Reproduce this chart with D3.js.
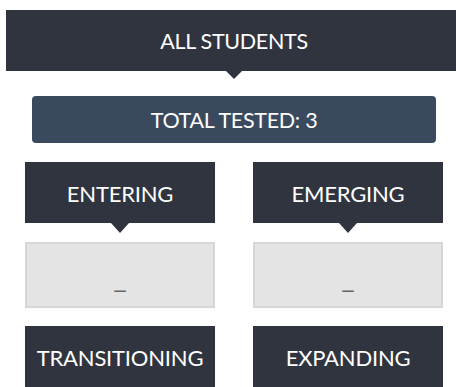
<!DOCTYPE html>
<html><head><meta charset="utf-8">
<script src="https://cdn.jsdelivr.net/npm/d3@7"></script>
<style>html,body{margin:0;padding:0;background:#fff;overflow:hidden}</style>
</head><body>
<script>
const title = "ALL STUDENTS";
const totalLabel = "TOTAL TESTED";
const totalValue = 3;
const categories = ["ENTERING", "EMERGING", "TRANSITIONING", "EXPANDING"];
const values = [null, null, null, null];

const W = 456, H = 387;
const dark = "#30343f", blue = "#3a4a5e";
const font = "Lato, 'Open Sans', sans-serif";
const svg = d3.select("body").append("svg").attr("width", W).attr("height", H);

// header
svg.append("rect").attr("x", 6).attr("y", 10).attr("width", 450).attr("height", 61).attr("fill", dark);
const hx = 234;
svg.append("path").attr("d", `M${hx-8},71 L${hx+8},71 L${hx},79 Z`).attr("fill", dark);
svg.append("text").attr("x", hx).attr("y", 41).attr("text-anchor", "middle").attr("dominant-baseline", "central")
  .attr("fill", "#fff").attr("font-family", font).attr("font-size", 21.5).attr("letter-spacing", -0.3).text(title);

// total
svg.append("rect").attr("x", 32).attr("y", 96).attr("width", 404).attr("height", 47).attr("rx", 4).attr("fill", blue);
svg.append("text").attr("x", 234).attr("y", 119.5).attr("text-anchor", "middle").attr("dominant-baseline", "central")
  .attr("fill", "#fff").attr("font-family", font).attr("font-size", 21.5).attr("letter-spacing", -0.3).text(`${totalLabel}: ${totalValue}`);

// grid
const x = d3.scaleBand().domain([0, 1]).range([25, 443]).paddingInner(38 / 228);
const rowY = [162, 326];
const boxH = 61;
categories.forEach((c, i) => {
  const col = i % 2, row = Math.floor(i / 2);
  const x0 = x(col), bw = x.bandwidth(), y0 = rowY[row];
  const cx = x0 + bw / 2;
  svg.append("rect").attr("x", x0).attr("y", y0).attr("width", bw).attr("height", boxH).attr("fill", dark);
  svg.append("text").attr("x", cx).attr("y", y0 + 31.5).attr("text-anchor", "middle").attr("dominant-baseline", "central")
    .attr("fill", "#fff").attr("font-family", font).attr("font-size", 22).attr("letter-spacing", -0.2).text(c);
  if (row === 0) {
    svg.append("path").attr("d", `M${cx-9},${y0+boxH} L${cx+9},${y0+boxH} L${cx},${y0+boxH+10} Z`).attr("fill", dark);
    svg.append("rect").attr("x", x0 + 1).attr("y", 243).attr("width", bw - 2).attr("height", 64)
      .attr("fill", "#e4e4e4").attr("stroke", "#d6d6d6").attr("stroke-width", 2);
    svg.append("text").attr("x", cx).attr("y", 290).attr("text-anchor", "middle").attr("dominant-baseline", "central")
      .attr("fill", "#666").attr("font-family", "'DejaVu Sans', sans-serif").attr("font-size", 13).attr("font-weight", "bold")
      .text(values[i] == null ? "—" : values[i]);
  }
});
</script>
</body></html>
